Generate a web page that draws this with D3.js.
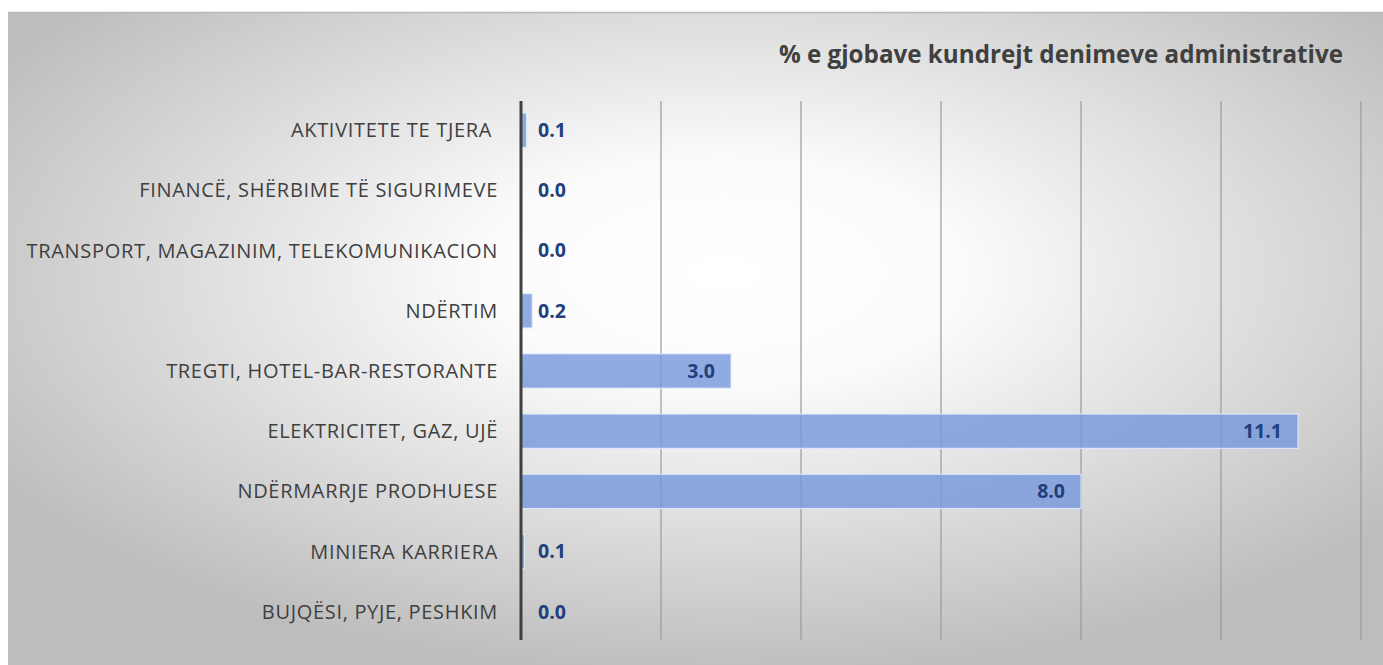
<!DOCTYPE html>
<html>
<head>
<meta charset="utf-8">
<script src="https://cdn.jsdelivr.net/npm/d3@7"></script>
<style>
  body { margin: 0; background: #ffffff; }
  svg { display: block; }
</style>
</head>
<body>
<script>

const svgWidth = 1383;
const svgHeight = 665;

// categories, top to bottom
const categories = [
    "AKTIVITETE TE TJERA ",
    "FINANCË, SHËRBIME TË SIGURIMEVE",
    "TRANSPORT, MAGAZINIM, TELEKOMUNIKACION",
    "NDËRTIM",
    "TREGTI, HOTEL-BAR-RESTORANTE",
    "ELEKTRICITET, GAZ, UJË",
    "NDËRMARRJE PRODHUESE",
    "MINIERA KARRIERA",
    "BUJQËSI, PYJE, PESHKIM"
];
const values = [0.08, 0.0, 0.0, 0.16, 3.0, 11.1, 8.0, 0.05, 0.0];
const gridTicks = [0, 2, 4, 6, 8, 10, 12];
const title = "% e gjobave kundrejt denimeve administrative";

const svg = d3.select("body")
    .append("svg")
    .attr("width", svgWidth)
    .attr("height", svgHeight);

// background gradient
const defs = svg.append("defs");
const grad = defs.append("radialGradient")
    .attr("id", "bg")
    .attr("cx", "52%")
    .attr("cy", "40%")
    .attr("r", "62%");
grad.append("stop").attr("offset", "0%").attr("stop-color", "#ffffff");
grad.append("stop").attr("offset", "28%").attr("stop-color", "#fbfbfb");
grad.append("stop").attr("offset", "100%").attr("stop-color", "#bdbdbd");

svg.append("rect")
    .attr("x", 8)
    .attr("y", 12)
    .attr("width", svgWidth - 8)
    .attr("height", svgHeight - 12)
    .attr("fill", "url(#bg)");

svg.append("line")
    .attr("x1", 8).attr("x2", svgWidth)
    .attr("y1", 12.5).attr("y2", 12.5)
    .attr("stroke", "#b8b8b8")
    .attr("stroke-width", 1.5);

// scales
const xScale = d3.scaleLinear()
    .domain([0, 12])
    .range([521, 1361]);

const yScale = d3.scaleBand()
    .domain(categories)
    .range([101, 641])
    .paddingInner(0.43)
    .paddingOuter(0.2);

// gridlines
svg.append("g")
    .selectAll("line")
    .data(gridTicks.slice(1))
    .enter()
    .append("line")
    .attr("x1", d => xScale(d))
    .attr("x2", d => xScale(d))
    .attr("y1", 101)
    .attr("y2", 640)
    .attr("stroke", "#9a9a9a")
    .attr("stroke-width", 1.2);

// bars
svg.append("g")
    .selectAll("rect")
    .data(values)
    .enter()
    .append("rect")
    .attr("x", xScale(0))
    .attr("y", (d, i) => yScale(categories[i]))
    .attr("width", d => xScale(d) - xScale(0))
    .attr("height", yScale.bandwidth())
    .attr("fill", "rgba(118, 152, 220, 0.82)")
    .attr("stroke", d => d > 0 ? "rgba(225, 235, 250, 0.9)" : "none")
    .attr("stroke-width", 1.2);

// y axis line
svg.append("line")
    .attr("x1", xScale(0))
    .attr("x2", xScale(0))
    .attr("y1", 101)
    .attr("y2", 640)
    .attr("stroke", "#404040")
    .attr("stroke-width", 3);

// category labels
svg.append("g")
    .selectAll("text")
    .data(categories)
    .enter()
    .append("text")
    .attr("x", 498)
    .attr("y", d => yScale(d) + yScale.bandwidth() / 2)
    .attr("dy", "0.35em")
    .attr("text-anchor", "end")
    .attr("font-family", "'Open Sans', sans-serif")
    .attr("font-size", 20)
    .attr("letter-spacing", 0.68)
    .attr("fill", "#404040")
    .style("white-space", "pre")
    .text(d => d);

// value labels
svg.append("g")
    .selectAll("text")
    .data(values)
    .enter()
    .append("text")
    .attr("x", d => d > 1 ? xScale(d) - 16 : xScale(0) + 17)
    .attr("y", (d, i) => yScale(categories[i]) + yScale.bandwidth() / 2)
    .attr("dy", "0.35em")
    .attr("text-anchor", d => d > 1 ? "end" : "start")
    .attr("font-family", "'Open Sans', sans-serif")
    .attr("font-weight", "bold")
    .attr("font-size", 19.5)
    .attr("fill", "#203f7c")
    .text(d => d.toFixed(1));

// title
svg.append("text")
    .attr("x", 1343)
    .attr("y", 63)
    .attr("text-anchor", "end")
    .attr("font-family", "'Open Sans', sans-serif")
    .attr("font-weight", "bold")
    .attr("font-size", 24.2)
    .attr("fill", "#404040")
    .text(title);

</script>
</body>
</html>
